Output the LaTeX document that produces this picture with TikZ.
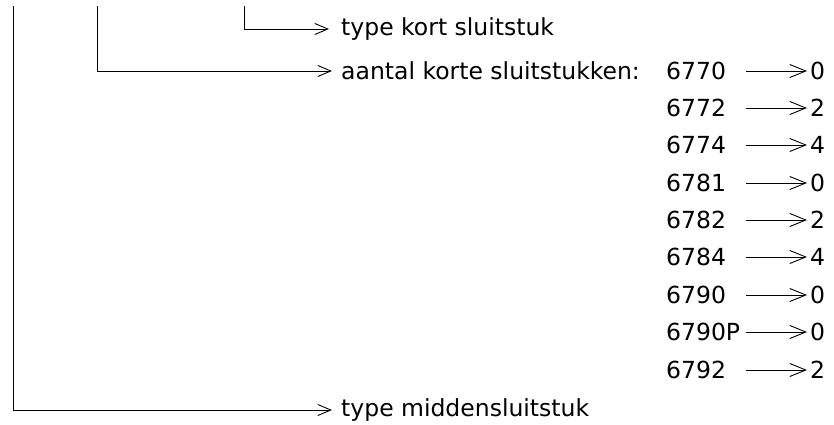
\documentclass[tikz,border=0pt]{standalone}
\usepackage{fontspec}
\setmainfont{DejaVu Sans}
\usetikzlibrary{arrows.meta}
\begin{document}
\begin{tikzpicture}[x=1pt,y=-1pt,
  lbl/.style={anchor=west,inner sep=0pt,font=\fontsize{23.5}{28}\selectfont},
  arr/.style={line width=0.9pt,-{Straight Barb[length=13pt,width=11pt,line width=0.9pt]}},
  tarr/.style={line width=0.9pt,-{Straight Barb[length=16pt,width=13pt,line width=0.9pt]}},
  ln/.style={line width=0.9pt}]
\useasboundingbox (0,0) rectangle (834,425);
% tree labels
\node[lbl] (kort) at (341,29) {type kort sluitstuk};
\node[lbl] (aantal) at (341,71) {aantal korte sluitstukken:};
\node[lbl] (midden) at (341,410) {type middensluitstuk};
% tops of the tree lines
\coordinate (t3) at (244,6);
\coordinate (t2) at (97,6);
\coordinate (t1) at (13,6);
\draw[ln] (t3) |- (kort.west -| 244,0);
\draw[arr] (kort.west -| 244,0) -- ([xshift=-12pt]kort.west);
\draw[ln] (t2) |- (aantal.west -| 97,0);
\draw[arr] (aantal.west -| 97,0) -- ([xshift=-9pt]aantal.west);
\draw[ln] (t1) |- (midden.west -| 13,0);
\draw[arr] (midden.west -| 13,0) -- ([xshift=-9pt]midden.west);
% table
\coordinate (ax) at (746,0);
\foreach \i/\k/\v/\y in {1/6770/0/71,2/6772/2/108,3/6774/4/145,4/6781/0/183,5/6782/2/220,6/6784/4/257,7/6790/0/295,8/6790P/0/332,9/6792/2/370}{
  \node[lbl] (k\i) at (666,\y) {\k};
  \node[lbl] (v\i) at (810,\y) {\v};
  \draw[tarr] (k\i.west -| ax) -- ([xshift=-3pt]v\i.west);
}
\end{tikzpicture}
\end{document}
